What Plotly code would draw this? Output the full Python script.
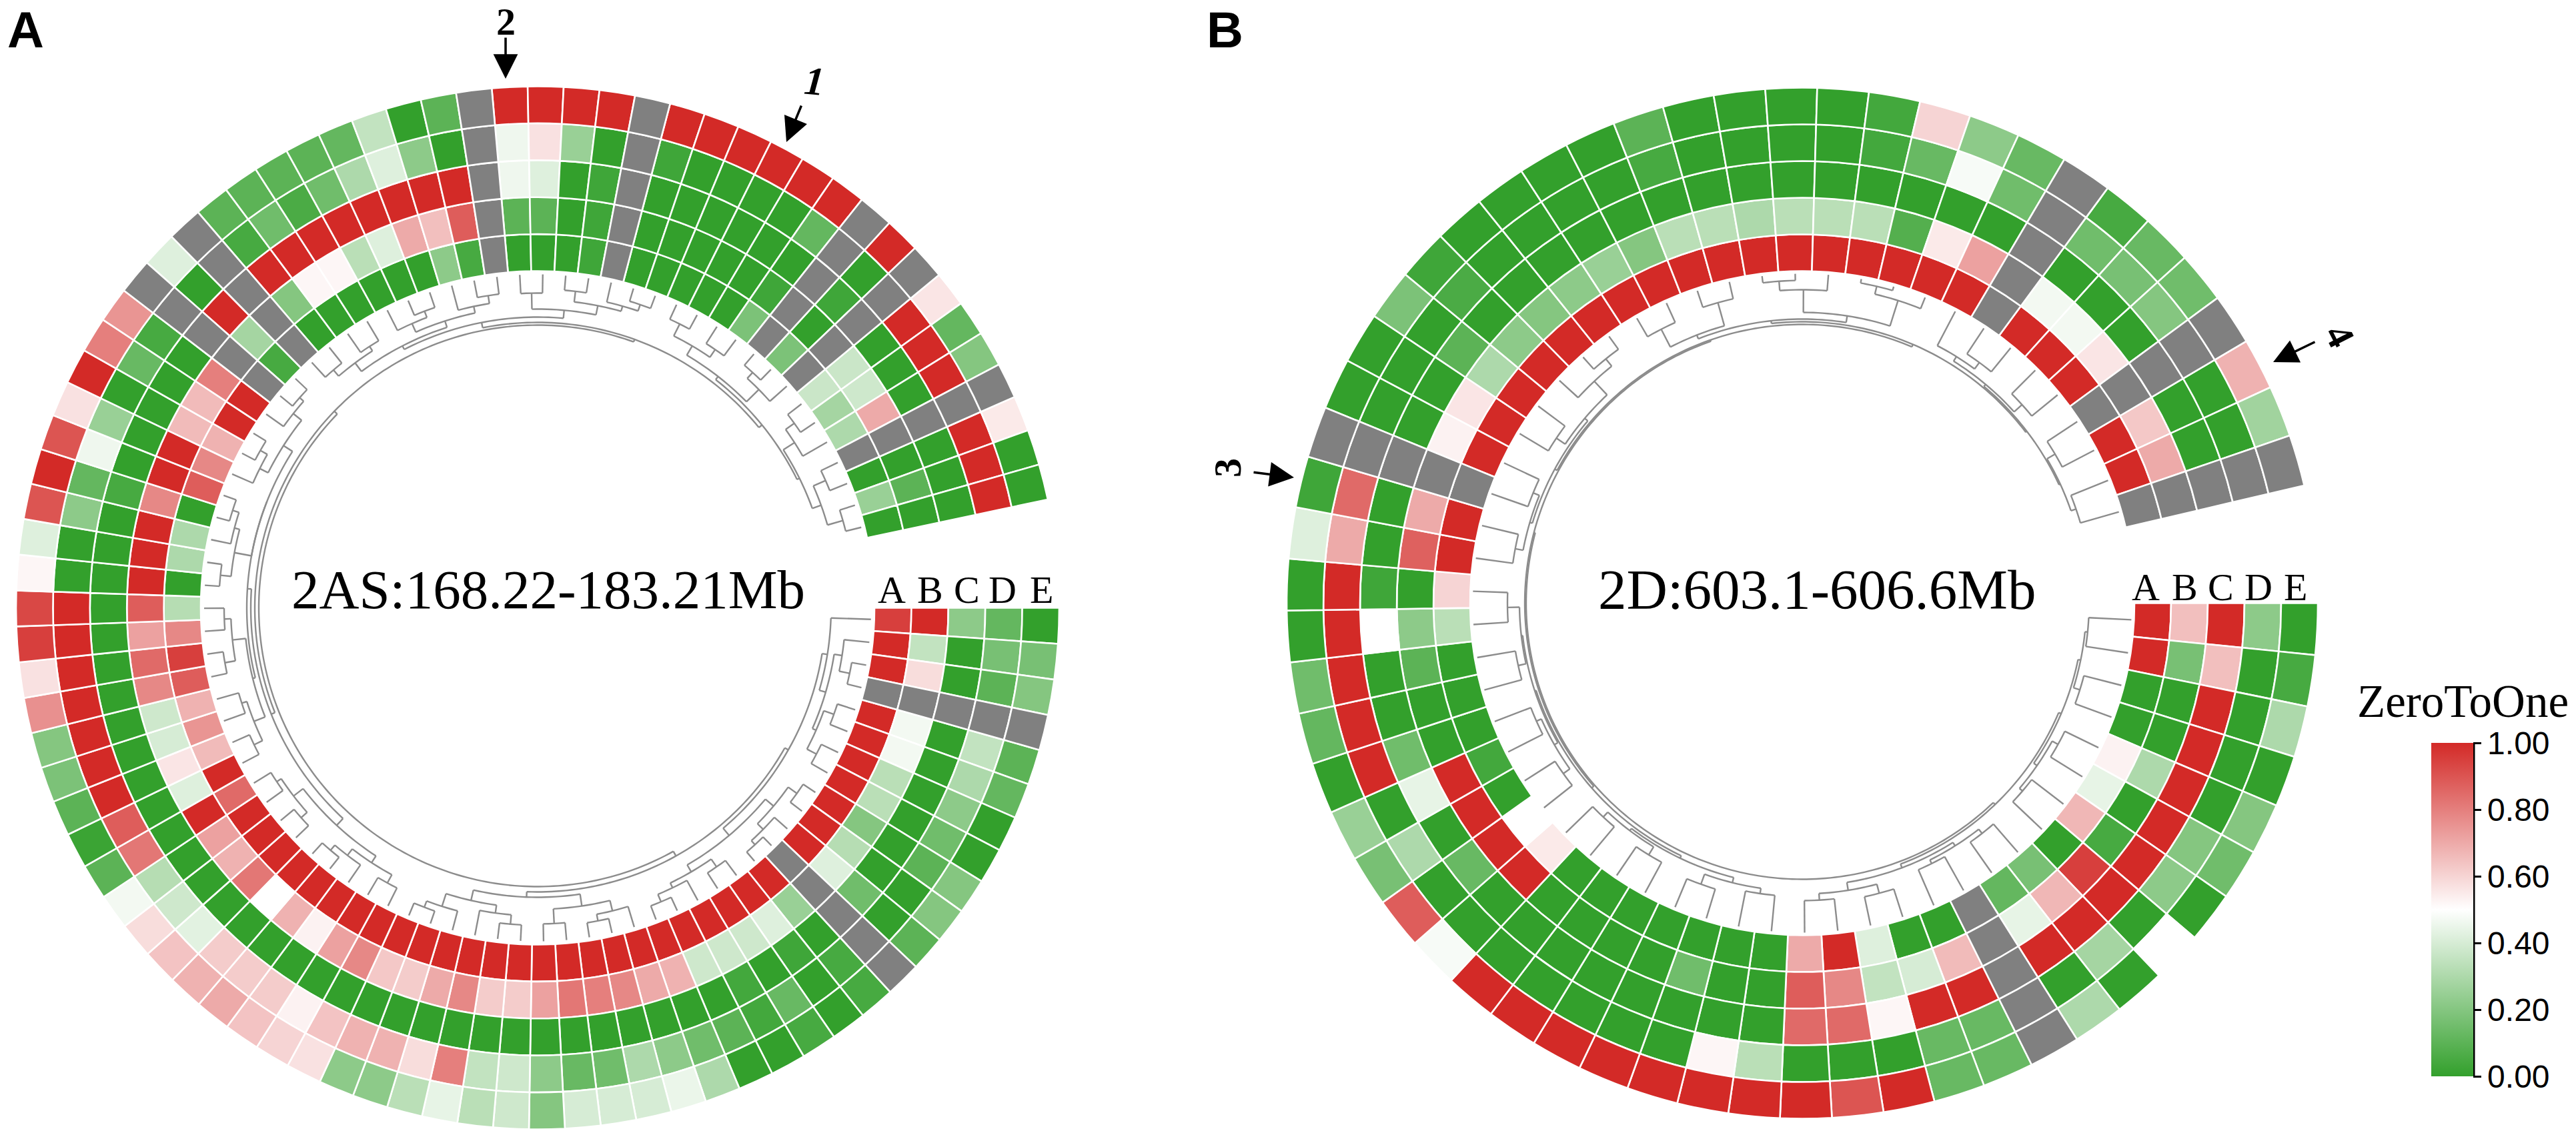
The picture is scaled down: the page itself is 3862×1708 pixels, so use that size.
import plotly.graph_objects as go

N = None
# ---- Panel A: rows clockwise from the gap, rings A (inner) to E (outer)
A_ring_A = [.95,1,1,N,1,1,1,1,1,1,1,N,1,1,1,1,1,1,1,1,1,1,1,1,1,1,1,1,1,1,1,1,1,1,1,1,1,.85,1,.66,.75,.68,.88,.95,.78,.32,0,.3,.3,0,.88,.78,.68,1,1,N,.05,N,0,0,0,0,0,0,.22,.05,N,0,0,0,.03,N,0,0,0,0,0,.18,N,.18,N,.37,.28,.3,N,0,.25,0]
A_ring_B = [1,.35,.58,N,.47,.47,.33,.33,.2,.32,.42,N,.25,.42,.38,.38,.38,.68,.7,.78,.8,.82,.72,.62,.62,.78,.7,.62,.63,.78,.72,.53,.68,.5,.82,.68,.72,1,.42,.56,.4,.38,.78,.85,.72,.88,1,1,1,.78,1,1,.66,.66,.8,N,.28,N,.2,.52,.52,.33,.42,.7,.65,.88,N,.1,.1,0,.03,N,0,0,0,0,0,.03,N,0,N,.37,.38,.7,N,0,.1,0]
A_ring_C = [.22,0,0,N,0,0,0,0,0,0,.15,N,0,.03,0,.04,0,0,0,0,0,0,0,0,0,0,0,0,0,0,0,0,0,0,0,0,0,0,0,0,0,0,0,0,0,0,0,0,0,.05,0,0,0,0,0,N,1,N,1,1,1,1,1,1,1,1,N,.46,.42,0,.03,N,0,0,0,0,0,0,N,.03,N,0,0,0,N,0,0,0]
A_ring_D = [.12,.17,.1,N,.35,.3,.22,.15,.1,0,0,N,.05,0,.13,.04,.1,.15,.22,.3,.15,.13,.22,.38,.35,.8,.58,.68,.68,.64,.53,.62,.62,.62,.43,.38,.32,.82,.88,1,1,1,1,1,1,1,0,0,.22,.12,.46,.25,0,.13,.05,N,0,N,.05,.15,.06,.15,.3,.42,.22,0,N,.46,.57,.25,0,N,.03,0,0,0,0,.12,N,0,N,1,1,1,N,1,1,1]
A_ring_E = [0,.17,.2,N,.1,.12,0,0,.2,.2,.1,N,.05,0,.05,0,0,.3,.45,.4,.4,.4,.2,.38,.33,.44,.33,.22,.22,.57,.6,.64,.7,.68,.64,.58,.47,.1,.02,.1,.18,.2,.76,.57,.95,.93,.52,.42,.9,1,.9,.57,1,.8,.75,N,.42,N,.1,.1,.1,.1,.12,.35,0,.1,N,1,1,1,1,N,1,1,1,1,1,1,N,1,N,.56,.12,.2,N,.55,0,0]

# ---- Panel B
B_ring_A = [1,1,0,0,.53,.44,.67,0,.17,.12,N,0,0,.42,1,.7,0,0,0,0,0,0,0,.55,.5,0,.04,0,0,0,.33,.6,1,1,N,1,1,1,1,1,1,1,1,1,1,1,1,1,1,1,1,1,N,1,1,1,N,1,1,N]
B_ring_B = [.65,.17,0,0,.3,0,.05,.95,.67,.44,N,.66,.4,.35,.78,.88,0,0,.15,0,0,0,0,1,1,1,1,0,0,.1,.22,0,.87,.7,N,.53,.56,.3,.22,.2,.22,.25,.2,.33,.33,.3,.33,.33,.33,.08,.55,.72,N,.47,.47,.56,N,.63,.7,N]
B_ring_C = [1,.65,1,1,1,1,1,1,1,1,N,1,1,.52,.85,.85,0,0,0,0,0,0,0,0,.13,0,.44,.15,0,0,.5,.03,0,0,N,0,0,.1,0,0,0,0,0,0,0,0,0,0,0,0,0,0,N,0,0,0,N,0,0,N]
B_ring_D = [.22,0,0,0,0,.2,.22,0,.28,0,N,.13,.13,0,0,0,.33,.52,0,0,0,0,0,0,0,.3,0,1,1,1,1,1,.7,.85,N,0,0,0,.06,0,0,0,0,.05,0,0,0,0,.04,.13,.48,.15,N,.15,.17,.2,N,0,0,N]
B_ring_E = [0,.05,.3,0,.2,.15,0,.5,0,.3,N,.13,.13,1,.9,1,1,1,1,1,1,1,1,.48,.88,.17,.25,0,.12,.15,0,0,.42,.03,N,0,0,.18,.03,0,0,0,0,.1,0,0,0,0,.04,.6,.22,.13,N,.05,.13,.15,N,.68,.27,N]

RING_NAMES = ["A", "B", "C", "D", "E"]
COLORBAR_TICKS = [0, .2, .4, .6, .8, 1]

# dendrograms: [merge radius, child, child]; ints are row numbers
a1 = [440, 1, [450, [462, 2, [478, 3, 4]], [456, [472, 5, 6], [472, 7, 8]]]]
a2 = [446, [462, [478, 9, 10], [474, 11, [482, 12, 13]]], [458, [472, 14, 15], [466, 16, [478, 17, 18]]]]
a3 = [452, [468, 19, [478, 20, 21]], [474, 22, 23]]
a4 = [450, [462, [476, 24, 25], 26], [470, 27, [480, 28, 29]]]
a5 = [444, [456, [470, 30, 31], [468, 32, [478, 33, 34]]], [462, [474, 35, 36], [470, 37, 38]]]
a6 = [440, [458, [472, 39, 40], [466, 41, 42]], [460, [476, 43, 44], [470, 45, 46]]]
a7 = [436, [462, [478, 47, 48], [470, 49, [480, 50, 51]]], [452, [466, 52, [478, 53, 54]], [468, 55, [476, 56, 57]]]]
a8 = [442, [458, [470, 58, 59], [466, 60, 61]], [452, [466, 62, [476, 63, 64]], [462, 65, [474, 66, 67]]]]
a9 = [448, [472, 68, 69], [462, [478, 70, 71], [470, 72, [480, 73, 74]]]]
a10 = [440, [456, [476, 75, 76], [470, 77, 78]], [466, [478, 79, 80], 81]]
a11 = [438, [458, [474, 82, 83], 84], [452, [472, 85, 86], [476, 87, 88]]]
A_TREE = [418, [426, [432, a1, a2], [434, a3, a4]], [424, [430, a5, [436, a6, a7]], [428, [436, a8, a9], [434, a10, a11]]]]

b1 = [426, [430, 1, 2], [436, 3, 4]]
b2 = [428, [438, 5, 6], [434, 7, 8]]
b3 = [430, [438, 9, 10], [436, 11, 12]]
b4 = [436, [450, 13, 14], [446, 15, 16]]
b5 = [432, [440, 17, 18], [448, 19, 20]]
b6 = [428, [442, 21, 22], [438, 23, 24]]
b7 = [428, [440, 25, 26], [436, 27, 28]]
b8 = [424, [436, 29, 30], [442, 31, 32]]
b9 = [426, [438, 33, 34], [436, 35, 36]]
b10 = [428, [444, 37, 38], [456, 39, [470, 40, 41]]]
b11 = [432, [462, 42, 43], [468, 44, 45]]
b12 = [436, [470, [484, 46, 47], 48], [476, [488, 49, 50], 51]]
b13 = [428, [436, 52, [448, 53, 54]], [444, 55, 56]]
b14 = [426, [440, 57, 58], [434, 59, 60]]
B_TREE = [414, [418, [422, b1, b2], [424, b3, b4]], [416, [420, [424, b5, b6], [422, b7, b8]], [418, [422, b9, b10], [422, [426, b11, b12], [424, b13, b14]]]]]

W, H = 3862, 1708
GREEN, RED, GRAY = "#33a02c", "#d32a27", "#808080"
SCALE = [[0, GREEN], [.5, "#ffffff"], [1, RED]]
HALF = 795


def px(x):
    return x / W


def py(y):
    return 1 - y / H


def tree_lines(node, step, leaf_r, th, rr):
    if isinstance(node, int):
        return (node - .5) * step, leaf_r
    h = node[0]
    kids = [tree_lines(c, step, leaf_r, th, rr) for c in node[1:]]
    for a, r in kids:
        th += [a, a, None]
        rr += [r, h, None]
    a0, a1_ = kids[0][0], kids[-1][0]
    n = max(2, int(abs(a1_ - a0)) + 2)
    for j in range(n):
        th.append(a0 + (a1_ - a0) * j / (n - 1))
        rr.append(h)
    th.append(None)
    rr.append(None)
    return (a0 + a1_) / 2, h


def add_panel(fig, rings, tree, sector, r0, ring_w, leaf_r, subplot):
    n = len(rings[0])
    step = sector / n
    t, b, v, gt, gb = [], [], [], [], []
    for k, ring in enumerate(rings):
        for i, val in enumerate(ring):
            if val is None:
                gt.append((i + .5) * step)
                gb.append(r0 + k * ring_w)
            else:
                t.append((i + .5) * step)
                b.append(r0 + k * ring_w)
                v.append(val)
    line = dict(color="white", width=2.6)
    fig.add_trace(go.Barpolar(theta=t, base=b, r=[ring_w] * len(t), width=[step] * len(t),
                              marker=dict(color=v, coloraxis="coloraxis", line=line),
                              subplot=subplot, showlegend=False, hoverinfo="skip"))
    fig.add_trace(go.Barpolar(theta=gt, base=gb, r=[ring_w] * len(gt), width=[step] * len(gt),
                              marker=dict(color=GRAY, line=line),
                              subplot=subplot, showlegend=False, hoverinfo="skip"))
    th, rr = [], []
    tree_lines(tree, step, leaf_r, th, rr)
    fig.add_trace(go.Scatterpolar(theta=th, r=rr, mode="lines", subplot=subplot,
                                  line=dict(color="#8c8c8c", width=2.4),
                                  connectgaps=False, showlegend=False, hoverinfo="skip"))


fig = go.Figure()
add_panel(fig, [A_ring_A, A_ring_B, A_ring_C, A_ring_D, A_ring_E], A_TREE, 348, 505, 55.4, 500, "polar")
add_panel(fig, [B_ring_A, B_ring_B, B_ring_C, B_ring_D, B_ring_E], B_TREE, 346.8, 498, 55, 494, "polar2")


def polar_layout(cx, cy):
    return dict(
        domain=dict(x=[px(cx - HALF), px(cx + HALF)], y=[py(cy + HALF), py(cy - HALF)]),
        bgcolor="rgba(0,0,0,0)", barmode="overlay",
        radialaxis=dict(visible=False, range=[0, HALF]),
        angularaxis=dict(visible=False, rotation=0, direction="clockwise"),
    )


annots = []


def text(x, y, s, size, family="Liberation Serif", angle=0, color="black"):
    annots.append(dict(x=px(x), y=py(y), xref="paper", yref="paper", text=s, showarrow=False,
                       font=dict(family=family, size=size, color=color), textangle=angle,
                       xanchor="center", yanchor="middle"))


def arrow(x0, y0, x1, y1):
    annots.append(dict(x=px(x1), y=py(y1), xref="paper", yref="paper", ax=x0 - x1, ay=y0 - y1,
                       axref="pixel", ayref="pixel", text="", showarrow=True, arrowhead=2,
                       arrowsize=2.1, arrowwidth=3.5, arrowcolor="black", standoff=0))


text(822, 884, "2AS:168.22-183.21Mb", 83)
text(2724, 884, "2D:603.1-606.6Mb", 85)
for name, x in zip(RING_NAMES, [1337, 1394, 1449, 1503, 1561]):
    text(x, 885, name, 58)
for name, x in zip(RING_NAMES, [3217, 3275, 3329, 3386, 3441]):
    text(x, 880, name, 58)
text(38, 44, "<b>A</b>", 76, "Liberation Sans")
text(1836, 44, "<b>B</b>", 76, "Liberation Sans")
text(758, 32, "<b>2</b>", 58)
arrow(758, 55, 758, 118)
text(1221, 122, "<b><i>1</i></b>", 60, angle=5)
arrow(1202, 157, 1179, 213)
text(1840, 702, "<b>3</b>", 58, angle=-90)
arrow(1878, 708, 1940, 716)
text(3508, 503, "<b>4</b>", 58, angle=63)
arrow(3472, 512, 3408, 543)
text(3692, 1052, "ZeroToOne", 69)

fig.update_layout(
    width=W, height=H, margin=dict(l=0, r=0, t=0, b=0, autoexpand=False),
    paper_bgcolor="white", plot_bgcolor="white",
    polar=polar_layout(806, 911.5), polar2=polar_layout(2702, 904.5),
    annotations=annots,
    coloraxis=dict(
        colorscale=SCALE, cmin=0, cmax=1,
        colorbar=dict(
            lenmode="pixels", len=500, thicknessmode="pixels", thickness=63,
            x=px(3645), xanchor="left", y=py(1364), yanchor="middle", xpad=0, ypad=0,
            outlinewidth=0, tickvals=COLORBAR_TICKS, tickformat=".2f", ticks="outside",
            ticklen=12, tickwidth=3, tickcolor="black",
            tickfont=dict(family="Liberation Sans", size=48, color="black"),
        ),
    ),
    shapes=[dict(type="line", xref="paper", yref="paper", x0=px(3709), x1=px(3709),
                 y0=py(1114), y1=py(1614), line=dict(color="black", width=3))],
)
fig.write_html("out.html", config={"displayModeBar": False},
               post_script="document.body.style.margin='0';document.body.style.overflow='hidden';")
